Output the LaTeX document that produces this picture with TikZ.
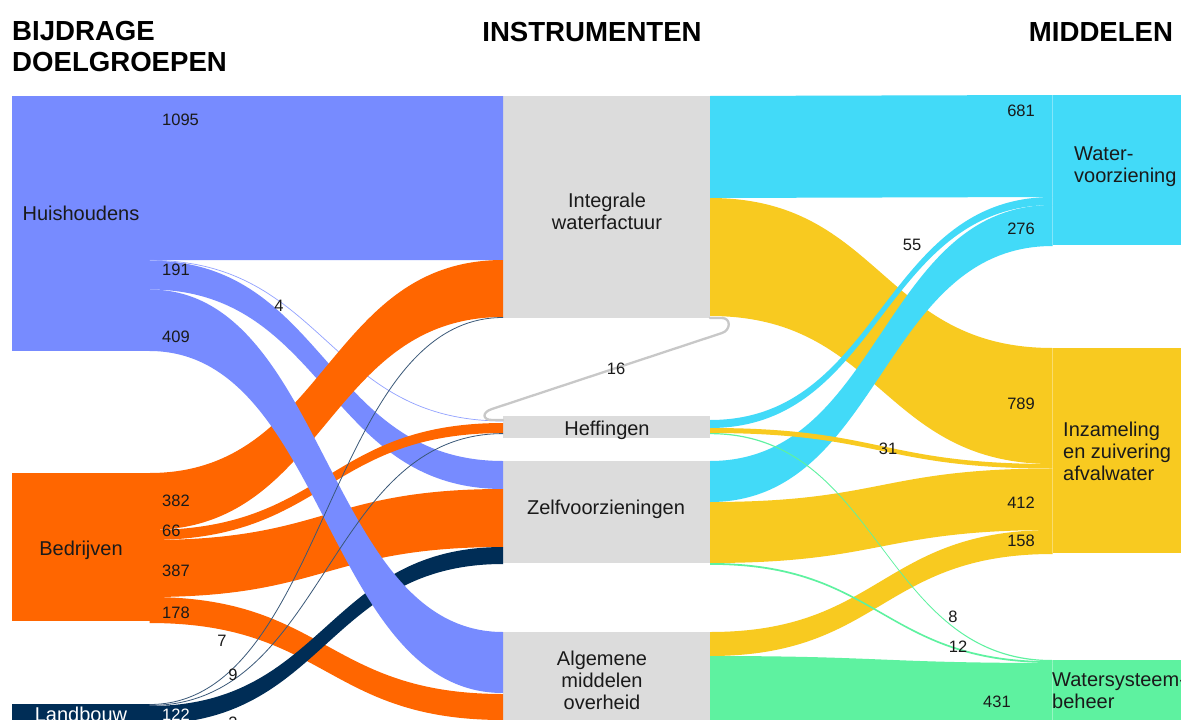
\documentclass[tikz,border=0pt]{standalone}
\usepackage{fontspec}
\setmainfont{Liberation Sans}
\usetikzlibrary{calc}
\definecolor{cHH}{HTML}{778BFF}
\definecolor{cBD}{HTML}{FF6600}
\definecolor{cLB}{HTML}{002D56}
\definecolor{cIN}{HTML}{DCDCDC}
\definecolor{cWV}{HTML}{42DAF8}
\definecolor{cIZ}{HTML}{F8CA20}
\definecolor{cWS}{HTML}{5EF2A0}
\definecolor{cLK}{HTML}{C8C8C8}
\definecolor{cTX}{HTML}{1A1A1A}
\definecolor{cLN}{HTML}{3A5878}
% band from node #2 (offsets #3..#4 from its top) to node #5 (offsets #6..#7)
\newcommand{\flowband}[7]{%
  \fill[#1] let \p1=(#2.north east), \p2=(#5.north west), \p3=({(\x1+\x2)/2},0) in
    (\x1,\y1-#3pt) .. controls (\x3,\y1-#3pt) and (\x3,\y2-#6pt) .. (\x2,\y2-#6pt)
    -- (\x2,\y2-#7pt) .. controls (\x3,\y2-#7pt) and (\x3,\y1-#4pt) .. (\x1,\y1-#4pt) -- cycle;}
\newcommand{\flowline}[6]{%
  \draw[#1, line width=#2] let \p1=(#3.north east), \p2=(#5.north west), \p3=({(\x1+\x2)/2},0) in
    (\x1,\y1-#4pt) .. controls (\x3,\y1-#4pt) and (\x3,\y2-#6pt) .. (\x2,\y2-#6pt);}
\begin{document}
\begin{tikzpicture}[x=1pt,y=-1pt,
  box/.style={inner sep=0pt, outer sep=0pt, anchor=north west, draw=none},
  lbl/.style={font=\fontsize{20}{21.7}\selectfont, text=cTX, inner sep=0pt},
  num/.style={font=\fontsize{16.5}{18}\selectfont, text=cTX, inner sep=0pt},
  ttl/.style={font=\fontsize{27.6}{30.5}\selectfont\bfseries, text=black, inner sep=0pt}]
\useasboundingbox (0,0) rectangle (1181,720);
\clip (0,0) rectangle (1181,720);
\fill[white] (0,0) rectangle (1181,720);

% titles
\node[ttl, anchor=north west, align=left] (title1) at (12,21.5) {BIJDRAGE\\DOELGROEPEN};
\node[ttl, anchor=base] (title2) at (592,41) {INSTRUMENTEN};
\node[ttl, anchor=base] (title3) at (1101,41) {MIDDELEN};

% node boxes
\node[box, fill=cHH, minimum width=137.5pt, minimum height=255pt] (hh) at (12,96) {};
\node[box, fill=cBD, minimum width=137.5pt, minimum height=148pt] (bd) at (12,473) {};
\node[box, fill=cLB, minimum width=137.5pt, minimum height=22pt] (lb) at (12,704) {};
\node[box, fill=cIN, minimum width=207pt, minimum height=222pt] (int) at (503,96) {};
\node[box, fill=cIN, minimum width=207pt, minimum height=22pt] (hef) at (503,416) {};
\node[box, fill=cIN, minimum width=207pt, minimum height=102pt] (zlf) at (503,461) {};
\node[box, fill=cIN, minimum width=207pt, minimum height=95pt] (alg) at (503,632) {};
\node[box, fill=cWV, minimum width=140pt, minimum height=150pt] (wv) at (1052.5,95) {};
\node[box, fill=cIZ, minimum width=140pt, minimum height=205pt] (iz) at (1052.5,348) {};
\node[box, fill=cWS, minimum width=140pt, minimum height=70pt] (ws) at (1052.5,660) {};

% left flows
\flowband{cHH}{hh}{0}{164}{int}{0}{164}
\flowband{cHH}{hh}{164.6}{193.5}{zlf}{0}{28}
\flowline{cHH!80!white}{0.7pt}{hh}{164.3}{hef}{5}
\flowband{cBD}{bd}{0}{57}{int}{164}{221}
\flowband{cBD}{bd}{57}{67}{hef}{7}{17}
\flowband{cBD}{bd}{67}{124}{zlf}{28}{86}
\flowband{cBD}{bd}{124}{150}{alg}{62}{88}
\flowband{cLB}{lb}{2}{20}{zlf}{86}{103}
\flowband{cLB}{lb}{20}{20.4}{alg}{88}{88.4}
\flowband{cHH}{hh}{193.5}{255}{alg}{0}{61}
\flowline{cLN}{0.8pt}{lb}{0.5}{int}{221.5}
\flowline{cLN}{0.8pt}{lb}{1.5}{hef}{17.6}

% right flows
\flowband{cWV}{int}{0}{102}{wv}{0}{102}
\flowband{cIZ}{int}{102}{220}{iz}{0}{116}
\flowband{cIZ}{zlf}{41}{102}{iz}{120.5}{182}
\flowband{cIZ}{alg}{0}{24}{iz}{182}{206}
\flowband{cWV}{zlf}{0}{41}{wv}{110}{151}
\flowband{cWV}{hef}{4}{12}{wv}{102}{110}
\flowband{cIZ}{hef}{12}{17}{iz}{116}{120.5}
\flowband{cWS}{alg}{24}{88}{ws}{3}{67}
\flowband{cWS}{zlf}{102}{103.8}{ws}{1.2}{3}
\flowband{cWS}{hef}{17}{18.2}{ws}{0}{1.2}

% loop link 16 (Integrale waterfactuur -> Heffingen)
\coordinate (l16a) at ($(int.north east)+(0,222)$);
\coordinate (l16b) at ($(hef.north west)+(0,4)$);
\draw[cLK, line width=2.3pt, line cap=round, line join=round]
  (l16a) -- ($(l16a)+(12,0)$)
  .. controls ($(l16a)+(21,0)$) and ($(l16a)+(21,12)$) .. ($(l16a)+(12,15)$)
  -- ($(l16b)+(-11,-11)$)
  .. controls ($(l16b)+(-21,-8)$) and ($(l16b)+(-21,0)$) .. ($(l16b)+(-11,0)$)
  -- (l16b);

% node labels
\node[lbl, anchor=base] (thh) at (81,220) {Huishoudens};
\node[lbl, anchor=base] (tbd) at (81,555) {Bedrijven};
\node[lbl, anchor=base, text=white] (tlb) at (81,721) {Landbouw};
\node[lbl, anchor=north, align=center] (tint) at (607,193) {Integrale\\waterfactuur};
\node[lbl, anchor=base] (thef) at (607,435) {Heffingen};
\node[lbl, anchor=base] (tzlf) at (606,514) {Zelfvoorzieningen};
\node[lbl, anchor=north, align=center] (talg) at (602,651) {Algemene\\middelen\\overheid};
\node[lbl, anchor=north west, align=left] (twv) at (1074,147) {Water-\\voorziening};
\node[lbl, anchor=north west, align=left] (tiz) at (1063,422) {Inzameling\\en zuivering\\afvalwater};
\node[lbl, anchor=north west, align=left] (tws) at (1052,673) {Watersysteem-\\beheer};

% flow values
\node[num, anchor=base west] (n1095) at (162,125) {1095};
\node[num, anchor=base west] (n191) at (162,275) {191};
\node[num, anchor=base] (n4) at (279,311) {4};
\node[num, anchor=base west] (n409) at (162,342) {409};
\node[num, anchor=base west] (n382) at (162,506) {382};
\node[num, anchor=base west] (n66) at (162,536) {66};
\node[num, anchor=base west] (n387) at (162,576) {387};
\node[num, anchor=base west] (n178) at (162,618) {178};
\node[num, anchor=base] (n7) at (222,646) {7};
\node[num, anchor=base] (n9) at (233,680) {9};
\node[num, anchor=base west, text=white] (n122) at (162,720) {122};
\node[num, anchor=base] (n2) at (233,728) {2};
\node[num, anchor=base] (n16) at (616,374) {16};
\node[num, anchor=base east] (n681) at (1035,116) {681};
\node[num, anchor=base] (n55) at (912,250) {55};
\node[num, anchor=base east] (n276) at (1035,234) {276};
\node[num, anchor=base east] (n789) at (1035,409) {789};
\node[num, anchor=base] (n31) at (888,454) {31};
\node[num, anchor=base east] (n412) at (1035,508) {412};
\node[num, anchor=base east] (n158) at (1035,546) {158};
\node[num, anchor=base] (n8) at (953,622) {8};
\node[num, anchor=base] (n12) at (958,652) {12};
\node[num, anchor=base] (n431) at (997,707) {431};
\end{tikzpicture}
\end{document}
